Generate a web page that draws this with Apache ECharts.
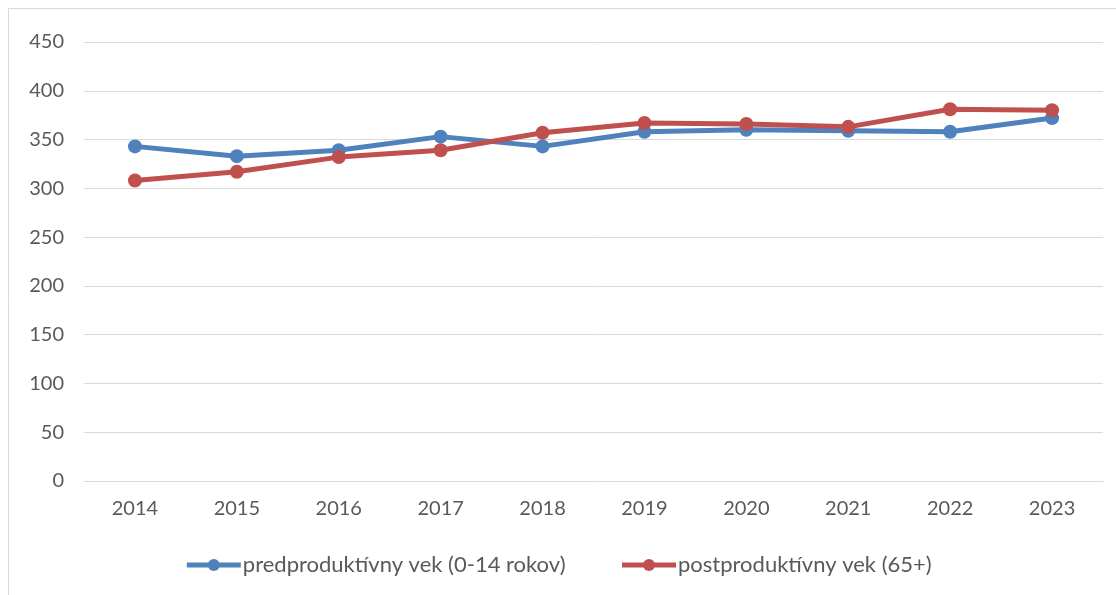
<!DOCTYPE html>
<html>
<head>
<meta charset="utf-8">
<script src="https://cdn.jsdelivr.net/npm/echarts@6/dist/echarts.min.js"></script>
<style>html,body{margin:0;padding:0;background:#fff;}#c{width:1116px;height:595px;}</style>
</head>
<body>
<div id="c"></div>
<script>
var categories = ['2014','2015','2016','2017','2018','2019','2020','2021','2022','2023'];
var seriesNames = ['predproduktívny vek (0-14 rokov)', 'postproduktívny vek (65+)'];
var preProductive = [343, 333, 339, 353, 343, 358, 360, 359, 358, 372];
var postProductive = [308, 317, 332, 339, 357, 367, 366, 363, 381, 380];

var chart = echarts.init(document.getElementById('c'));
var font = 'Lato, "Open Sans", sans-serif';
chart.setOption({
  animation: false,
  backgroundColor: '#fff',
  graphic: [{
    type: 'rect', shape: {x: 8.5, y: 8.5, width: 1200, height: 1200},
    style: {fill: 'none', stroke: '#D9D9D9', lineWidth: 1}, silent: true
  }],
  grid: {left: 84, right: 13, top: 42, bottom: 114},
  legend: {
    bottom: 14, left: 'center', itemGap: 54, itemWidth: 54, itemHeight: 15,
    lineStyle: {width: 5},
    textStyle: {color: '#595959', fontSize: 22, fontFamily: font, padding: [0,0,0,-3]},
    data: seriesNames
  },
  xAxis: {
    type: 'category', data: categories, boundaryGap: true,
    axisLine: {lineStyle: {color: '#D9D9D9', width: 1}},
    axisTick: {show: false},
    axisLabel: {color: '#595959', fontSize: 20, fontFamily: font, margin: 18}
  },
  yAxis: {
    type: 'value', min: 0, max: 450, interval: 50,
    axisLine: {show: false}, axisTick: {show: false},
    splitLine: {lineStyle: {color: '#D9D9D9', width: 1}},
    axisLabel: {color: '#595959', fontSize: 20, fontFamily: font, margin: 20}
  },
  series: [{
    name: seriesNames[0], type: 'line', data: preProductive,
    symbol: 'circle', symbolSize: 14, lineStyle: {width: 5, color: '#4F81BD'},
    itemStyle: {color: '#4F81BD'}
  }, {
    name: seriesNames[1], type: 'line', data: postProductive,
    symbol: 'circle', symbolSize: 14, lineStyle: {width: 5, color: '#C0504D'},
    itemStyle: {color: '#C0504D'}
  }]
});
</script>
</body>
</html>
